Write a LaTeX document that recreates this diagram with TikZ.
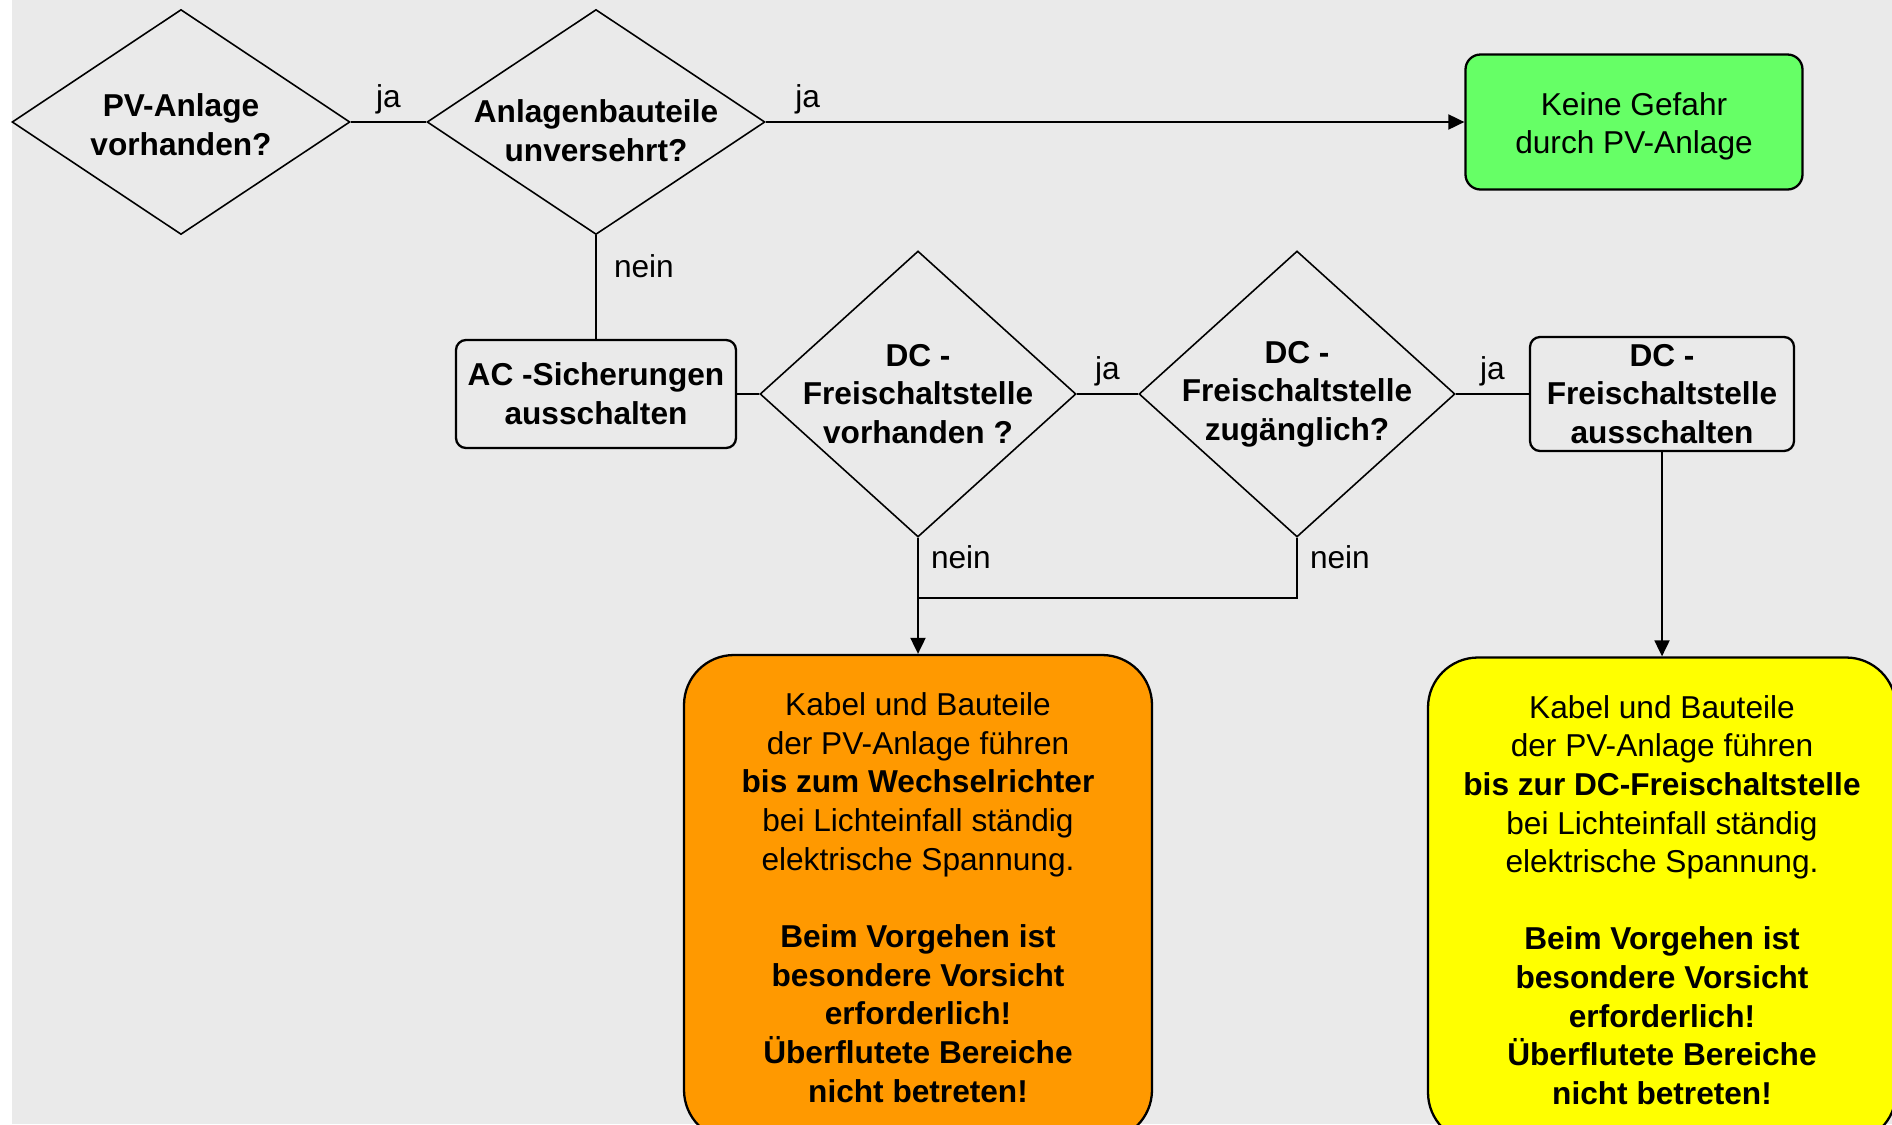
\documentclass[tikz,border=0pt]{standalone}
\usepackage{fontspec}
\setmainfont{Liberation Sans}
\usetikzlibrary{shapes}
\usetikzlibrary{arrows.meta}
\usetikzlibrary{positioning}

\definecolor{hgrau}{HTML}{EAEAEA}
\definecolor{gruen}{HTML}{66FF66}
\definecolor{warnorange}{HTML}{FF9900}
\definecolor{warngelb}{HTML}{FFFF00}
\newcommand{\normtext}{\fontsize{18}{22}\selectfont}
\newcommand{\fetttext}{\fontsize{18}{22}\selectfont\bfseries}

\begin{document}
\begin{tikzpicture}[>={Triangle[length=0.32cm,width=0.3cm]},
    auto,node distance=2cm,on grid,line width=1.1pt,
    every node/.style={font=\normtext},
    frage/.style={diamond,draw,line width=0.9pt,minimum width=6.76cm,
      minimum height=4.5cm,inner sep=0pt},
    fragetext/.style={align=center,font=\fetttext},
    schritt/.style={rectangle,draw,rounded corners=0.2cm,line width=1.3pt,
      align=center,font=\fetttext},
    ergebnis/.style={rectangle,draw,rounded corners=1cm,line width=1.3pt,
      align=center,minimum width=9.36cm,minimum height=9.7cm}]
  \clip (0,0) rectangle (37.84,-22.48);
  \fill[white] (0,0) rectangle (37.84,-22.48);
  \fill[hgrau] (0.24,0) rectangle (37.84,-22.48);

  \node[frage,label={[fragetext,yshift=-0.06cm]center:PV-Anlage\\vorhanden?}] (pv) at (3.62,-2.44) {};
  \node[frage,label={[fragetext,yshift=-0.18cm]center:Anlagenbauteile\\unversehrt?}]
    (bauteile) [right=8.3cm of pv] {};
  \node[schritt,rounded corners=0.3cm,fill=gruen,font=\normtext,
    minimum width=6.74cm,minimum height=2.7cm,text height=1.4cm] (keine) [right=20.76cm of bauteile]
    {Keine Gefahr\\durch PV-Anlage};
  \node[schritt,minimum width=5.6cm,minimum height=2.16cm] (ac) [below=5.44cm of bauteile]
    {AC -Sicherungen\\ausschalten};
  \node[frage,minimum width=6.32cm,minimum height=5.72cm,
    label={[fragetext]center:DC -\\Freischaltstelle\\vorhanden ?}] (dcda) [right=6.44cm of ac] {};
  \node[frage,minimum width=6.32cm,minimum height=5.72cm,
    label={[fragetext]center:DC -\\Freischaltstelle\\zugänglich?}] (dczu) [right=7.58cm of dcda] {};
  \node[schritt,minimum width=5.28cm,minimum height=2.28cm,inner ysep=0pt] (dcaus)
    [right=7.3cm of dczu] {DC -\\Freischaltstelle\\ausschalten};
  \node[ergebnis,fill=warnorange] (wr) [below=10.07cm of dcda]
    {Kabel und Bauteile\\der PV-Anlage führen\\\textbf{bis zum Wechselrichter}\\
     bei Lichteinfall ständig\\elektrische Spannung.\\[22pt]
     \textbf{Beim Vorgehen ist}\\\textbf{besondere Vorsicht}\\\textbf{erforderlich!}\\
     \textbf{Überflutete Bereiche}\\\textbf{nicht betreten!}};
  \node[ergebnis,fill=warngelb] (dcfs) [below=10.12cm of dcaus]
    {Kabel und Bauteile\\der PV-Anlage führen\\\textbf{bis zur DC-Freischaltstelle}\\
     bei Lichteinfall ständig\\elektrische Spannung.\\[22pt]
     \textbf{Beim Vorgehen ist}\\\textbf{besondere Vorsicht}\\\textbf{erforderlich!}\\
     \textbf{Überflutete Bereiche}\\\textbf{nicht betreten!}};
  \coordinate[below=1.2cm of dcda.south] (knoten);

  \path [every node/.style={font=\normtext,inner sep=4pt}]
    (pv) edge node {ja} (bauteile)
    (bauteile) edge [->] node [pos=0.06] {ja} (keine)
               edge node [pos=0.3,xshift=0.2cm] {nein} (ac)
    (ac) edge (dcda)
    (dcda) edge node {ja} (dczu)
           edge [->] node [pos=0.17,xshift=0.1cm] {nein} (wr)
    (dczu) edge node {ja} (dcaus)
    (dcaus) edge [->] (dcfs);
  \draw (dczu.south) -- node [right,pos=0.33,xshift=0.1cm,inner sep=4pt] {nein}
    (dczu.south |- knoten) -- (knoten);
\end{tikzpicture}
\end{document}
